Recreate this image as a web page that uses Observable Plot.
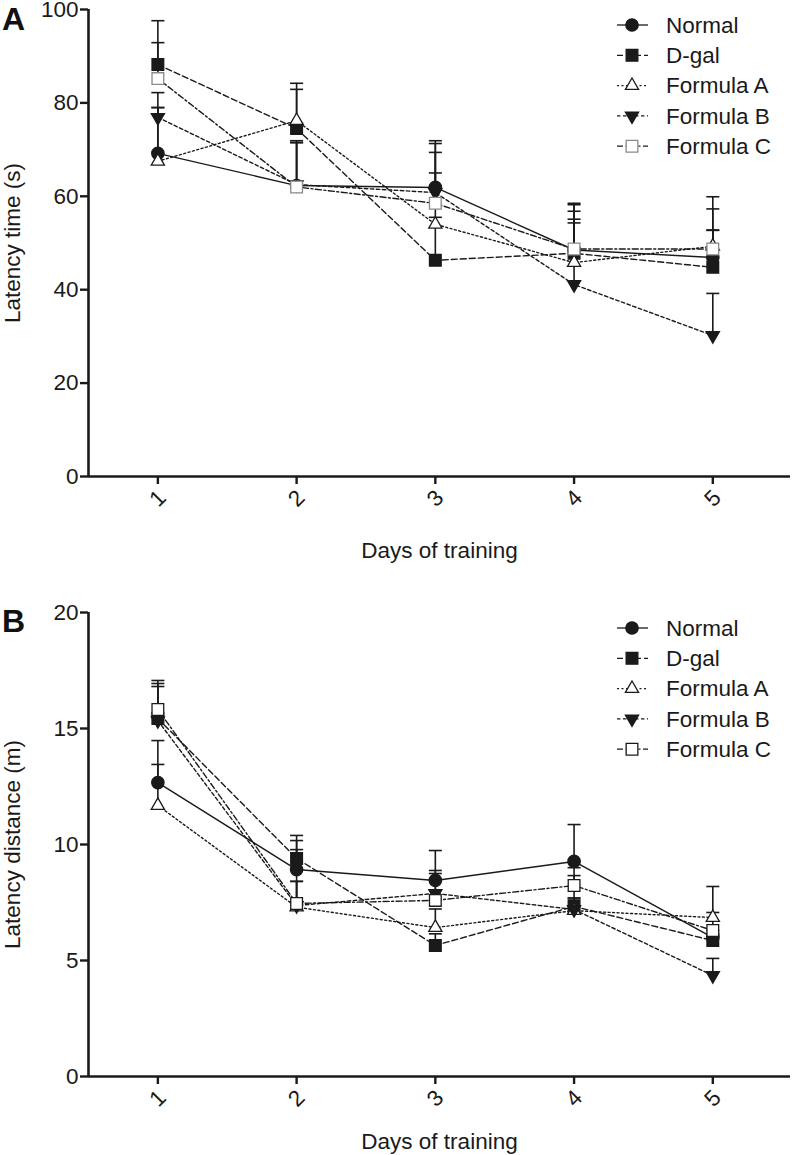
<!DOCTYPE html>
<html><head><meta charset="utf-8">
<script src="https://cdn.jsdelivr.net/npm/d3@7"></script>
<script src="https://cdn.jsdelivr.net/npm/@observablehq/plot@0.6"></script>
<style>
body{margin:0;background:#fff;font-family:"Liberation Sans",Arial,sans-serif;}
#wrap{position:relative;width:792px;height:1155px;overflow:hidden;}
.panel{position:absolute;left:0;}
.tag{position:absolute;left:2px;font-weight:bold;font-size:32px;line-height:1;color:#111;z-index:5;}
</style></head><body>
<div id="wrap">
  <div class="panel" id="pa" style="top:1px"></div>
  <div class="panel" id="pb" style="top:560px"></div>
  <div class="tag" style="top:3px">A</div>
  <div class="tag" style="top:605px">B</div>
</div>
<script>
// ---- data ----
const days = [1, 2, 3, 4, 5];
const groups = ["Normal", "D-gal", "Formula A", "Formula B", "Formula C"];

// Panel A: latency time (s), mean and upper error (SEM)
const timeNormal   = [69.2, 62.3, 61.9, 48.5, 46.9];
const timeDgal     = [88.2, 74.5, 46.3, 47.8, 44.8];
const timeA        = [67.5, 76.2, 54.0, 45.8, 49.3];
const timeB        = [76.9, 62.5, 60.8, 41.1, 30.2];
const timeC        = [85.2, 62.0, 58.5, 48.7, 48.7];
const timeErrNormal = [9.8, 9.6, 10.0, 10.0, 13.0];
const timeErrDgal   = [9.4, 8.4, 9.2, 9.0, 8.0];
const timeErrA      = [11.5, 8.0, 11.0, 8.5, 8.0];
const timeErrB      = [5.3, 9.0, 10.5, 14.0, 9.0];
const timeErrC      = [7.7, 9.5, 10.9, 9.5, 4.0];

// Panel B: latency distance (m)
const distNormal   = [12.67, 8.92, 8.45, 9.27, 5.99];
const distDgal     = [15.43, 9.40, 5.65, 7.33, 5.86];
const distA        = [11.68, 7.30, 6.42, 7.15, 6.85];
const distB        = [15.34, 7.37, 7.89, 7.20, 4.35];
const distC        = [15.82, 7.46, 7.59, 8.23, 6.29];
const distErrNormal = [1.81, 1.25, 1.29, 1.59, 0.30];
const distErrDgal   = [1.51, 0.99, 0.50, 1.33, 0.30];
const distErrA      = [1.77, 1.11, 0.80, 0.50, 1.34];
const distErrB      = [1.47, 1.04, 0.99, 0.50, 0.74];
const distErrC      = [1.25, 2.32, 1.16, 0.77, 0.78];

const yTicksA = [0, 20, 40, 60, 80, 100];
const yTicksB = [0, 5, 10, 15, 20];

// ---- styles per group ----
const INK = "#1a1a1a";
const styleOf = {
  "Normal":    {dash: null,          symbol: "circle",   fill: INK,     stroke: INK, rotate: 0},
  "D-gal":     {dash: "6,3",         symbol: "square",   fill: INK,     stroke: INK, rotate: 0},
  "Formula A": {dash: "2,2.5",       symbol: "triangle", fill: "white", stroke: INK, rotate: 0},
  "Formula B": {dash: "3.5,2.5",     symbol: "triangle", fill: INK,     stroke: INK, rotate: 180},
  "Formula C": {dash: "6,2.5,2,2.5", symbol: "square",   fill: "white", stroke: INK, rotate: 0}
};
const symR = {"circle": 6.2, "square": 6.6, "triangle": 4.9};
const FS = 22.5;

function makeRows(vals, errs) {
  return groups.flatMap((g, i) => days.map((d, j) => ({group: g, day: d, v: vals[i][j], e: errs[i][j]})));
}

function panel({rows, yDomain, yTicks, yLabel, height, marginTop, marginBottom, cStroke, legendTop, xLabelOffset}) {
  const capHalf = 0.047;
  const marks = [];
  for (const g of groups) {
    const s = styleOf[g];
    marks.push(Plot.line(rows.filter(r => r.group === g), {
      x: "day", y: "v", stroke: INK, strokeWidth: 1.4,
      strokeDasharray: s.dash || undefined
    }));
  }
  marks.push(Plot.ruleX(rows, {x: "day", y1: "v", y2: d => d.v + d.e, stroke: INK, strokeWidth: 1.6}));
  marks.push(Plot.link(rows, {x1: d => d.day - capHalf, x2: d => d.day + capHalf,
    y1: d => d.v + d.e, y2: d => d.v + d.e, stroke: INK, strokeWidth: 1.6}));
  for (const g of groups) {
    const s = styleOf[g];
    marks.push(Plot.dot(rows.filter(r => r.group === g), {
      x: "day", y: "v", symbol: s.symbol, r: symR[s.symbol], rotate: s.rotate,
      fill: s.fill, stroke: g === "Formula C" ? cStroke : s.stroke, strokeWidth: 1.3
    }));
  }
  marks.push(Plot.ruleX([0.5], {stroke: INK, strokeWidth: 2.6}));
  marks.push(Plot.ruleY([yDomain[0]], {stroke: INK, strokeWidth: 2.6}));
  marks.push(Plot.axisY({ticks: yTicks, tickSize: 8, tickPadding: 2, strokeWidth: 2.4,
    tickFormat: d => String(d),
    label: yLabel, labelAnchor: "center", labelArrow: "none", labelOffset: 84}));
  marks.push(Plot.axisX({ticks: days, tickSize: 8, tickPadding: 14, strokeWidth: 2.4,
    tickFormat: d => String(d), tickRotate: -45, textAnchor: "middle",
    label: "Days of training", labelAnchor: "center", labelArrow: "none", labelOffset: xLabelOffset}));

  const svg = Plot.plot({
    width: 792, height, marginLeft: 88, marginRight: 2, marginTop, marginBottom,
    style: {fontFamily: "'Liberation Sans', Arial, sans-serif", fontSize: FS + "px", color: INK, background: "transparent", overflow: "visible"},
    x: {domain: [0.5, 5.56]},
    y: {domain: yDomain},
    marks
  });

  // legend drawn from the group list
  const lg = d3.select(svg).append("g").attr("transform", `translate(0,${legendTop})`);
  groups.forEach((g, i) => {
    const s = styleOf[g];
    const row = lg.append("g").attr("transform", `translate(0,${i * 30.3})`);
    row.append("line").attr("x1", 617).attr("x2", 648).attr("y1", 0).attr("y2", 0)
      .attr("stroke", INK).attr("stroke-width", 1.3).attr("stroke-dasharray", s.dash || null);
    const r = symR[s.symbol];
    const sym = {circle: d3.symbolCircle, square: d3.symbolSquare, triangle: d3.symbolTriangle}[s.symbol];
    row.append("path").attr("d", d3.symbol(sym, Math.PI * r * r)())
      .attr("transform", `translate(632,0) rotate(${s.rotate})`)
      .attr("fill", s.fill).attr("stroke", g === "Formula C" ? cStroke : s.stroke).attr("stroke-width", 1.3);
    row.append("text").attr("x", 666).attr("y", 0).attr("dy", "0.35em")
      .attr("text-anchor", "start")
      .attr("font-size", 22.5).attr("fill", INK).text(g);
  });
  return svg;
}

const rowsA = makeRows([timeNormal, timeDgal, timeA, timeB, timeC],
  [timeErrNormal, timeErrDgal, timeErrA, timeErrB, timeErrC]);
const rowsB = makeRows([distNormal, distDgal, distA, distB, distC],
  [distErrNormal, distErrDgal, distErrA, distErrB, distErrC]);

document.getElementById("pa").appendChild(panel({
  rows: rowsA, yDomain: [0, 100], yTicks: yTicksA, yLabel: "Latency time (s)",
  height: 559, marginTop: 8, marginBottom: 84, cStroke: "#8a8a8a", legendTop: 24, xLabelOffset: 81
}));
document.getElementById("pb").appendChild(panel({
  rows: rowsB, yDomain: [0, 20], yTicks: yTicksB, yLabel: "Latency distance (m)",
  height: 595, marginTop: 52, marginBottom: 79, cStroke: INK, legendTop: 68, xLabelOffset: 72
}));
</script>
</body></html>
